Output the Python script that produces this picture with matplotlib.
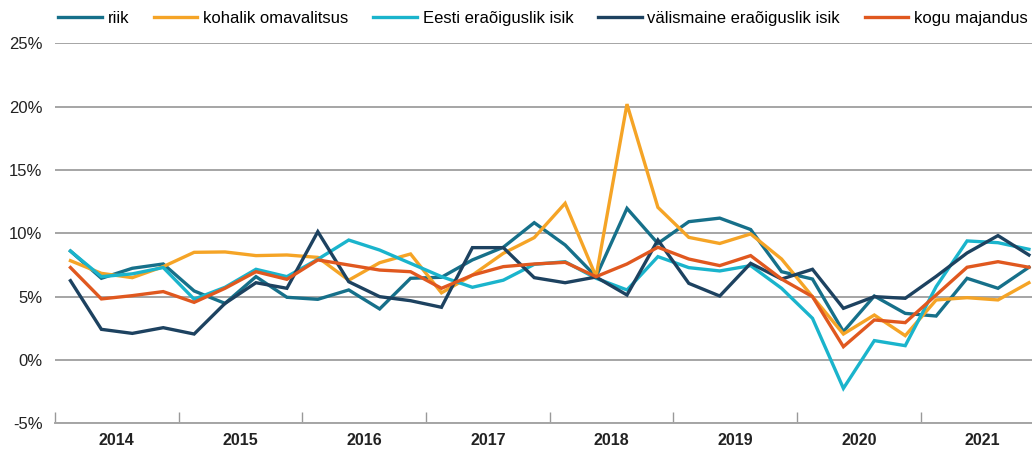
import matplotlib
matplotlib.use("Agg")
import matplotlib.pyplot as plt
import numpy as np

plt.rcParams["font.family"] = ["Liberation Sans", "DejaVu Sans"]

YEARS = ["2014", "2015", "2016", "2017", "2018", "2019", "2020", "2021"]
QUARTERS = [f"{y}Q{q}" for y in YEARS for q in range(1, 5)]

riik = [8.6, 6.45, 7.24, 7.58, 5.45, 4.47, 6.58, 4.95,
        4.79, 5.53, 4.03, 6.45, 6.53, 7.9, 8.9, 10.84,
        9.08, 6.58, 11.97, 9.2, 10.92, 11.2, 10.3, 6.97,
        6.39, 2.24, 5.05, 3.68, 3.47, 6.45, 5.66, 7.32]
kohalik = [7.84, 6.84, 6.5, 7.37, 8.5, 8.53, 8.24, 8.29,
           8.1, 6.3, 7.68, 8.37, 5.3, 6.7, 8.42, 9.66,
           12.37, 6.58, 20.2, 12.05, 9.68, 9.2, 9.95, 7.97,
           5.0, 2.05, 3.55, 1.92, 4.74, 4.92, 4.74, 6.1]
eesti = [8.6, 6.58, 6.8, 7.3, 4.8, 5.74, 7.16, 6.58,
         7.95, 9.47, 8.68, 7.63, 6.58, 5.74, 6.3, 7.55,
         7.76, 6.45, 5.53, 8.16, 7.29, 7.03, 7.45, 5.66,
         3.29, -2.24, 1.53, 1.13, 5.79, 9.4, 9.26, 8.74]
valismaine = [6.26, 2.42, 2.1, 2.55, 2.05, 4.47, 6.1, 5.66,
              10.13, 6.18, 5.0, 4.68, 4.16, 8.87, 8.87, 6.5,
              6.1, 6.55, 5.13, 9.47, 6.05, 5.05, 7.63, 6.39,
              7.16, 4.08, 5.0, 4.87, 6.6, 8.45, 9.82, 8.29]
kogu = [7.3, 4.82, 5.08, 5.4, 4.55, 5.66, 6.97, 6.37,
        7.9, 7.5, 7.1, 6.97, 5.66, 6.7, 7.37, 7.58,
        7.71, 6.58, 7.58, 8.9, 7.97, 7.45, 8.24, 6.39,
        5.0, 1.05, 3.16, 2.95, 5.13, 7.32, 7.76, 7.32]

SERIES = [
    ("riik", riik, "#16708a"),
    ("kohalik omavalitsus", kohalik, "#f5a426"),
    ("Eesti eraõiguslik isik", eesti, "#1ab4cc"),
    ("välismaine eraõiguslik isik", valismaine, "#1d4260"),
    ("kogu majandus", kogu, "#e0581f"),
]

fig = plt.figure(figsize=(10.32, 4.49), dpi=100)
ax = fig.add_axes([0.0533, 0.0572, 0.9467, 0.8463])

x = np.arange(len(QUARTERS))
for label, vals, color in SERIES:
    ax.plot(x, vals, color=color, linewidth=2.4, label=label, zorder=3,
            solid_joinstyle="miter")

ax.set_xlim(-0.5, 31.1)
ax.set_ylim(-5, 25)
ax.set_yticks(np.arange(-5, 26, 5))
ax.set_yticklabels([f"{v}%" for v in range(-5, 26, 5)], fontsize=12, color="#222222")
ax.grid(axis="y", color="#a5a5a5", linewidth=1.4, zorder=0)
ax.tick_params(axis="y", length=0, pad=9)

# year labels centred on each block of four quarters, separators between years
ax.set_xticks(np.arange(1.5, 32, 4))
ax.set_xticklabels(YEARS, fontsize=11.5, fontweight="bold", color="#222222")
ax.set_xticks(np.arange(-0.5, 31, 4), minor=True)
ax.tick_params(axis="x", which="major", length=0, pad=7)
ax.tick_params(axis="x", which="minor", direction="in", length=8,
               color="#999999", width=1)

for side in ["top", "right", "left"]:
    ax.spines[side].set_visible(False)
ax.spines["bottom"].set_color("#a5a5a5")
ax.spines["bottom"].set_linewidth(1.4)

fig.legend(loc="upper left", bbox_to_anchor=(0.042, 1.01), ncol=5, frameon=False,
           fontsize=12, handlelength=2.6, columnspacing=1.5, handletextpad=0.35)

fig.savefig("out.png", dpi=100)
